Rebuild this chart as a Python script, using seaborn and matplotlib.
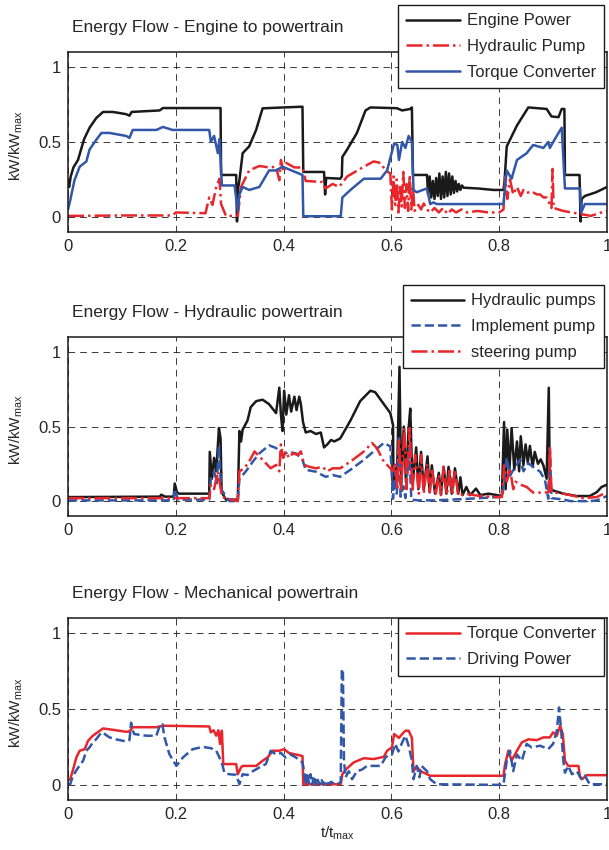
import matplotlib
matplotlib.use("Agg")
import matplotlib.pyplot as plt
import numpy as np
import pandas as pd
import seaborn as sns
from matplotlib.ticker import FormatStrFormatter

# ---- data (t / t_max, kW / kW_max) ----

# panel 1: engine to powertrain
engine_t = [0.000, 0.002, 0.005, 0.010, 0.0185, 0.025, 0.030, 0.040, 0.0525, 0.065, 0.083, 0.100,
            0.108, 0.114, 0.118, 0.170, 0.176, 0.275, 0.283, 0.284, 0.312, 0.3135, 0.316, 0.318,
            0.324, 0.336, 0.349, 0.361, 0.400, 0.435, 0.4365, 0.475, 0.477, 0.479, 0.505, 0.508,
            0.509, 0.518, 0.536, 0.552, 0.561, 0.610, 0.620, 0.635, 0.638, 0.640, 0.666, 0.668,
            0.671, 0.674, 0.677, 0.680, 0.683, 0.686, 0.689, 0.692, 0.695, 0.698, 0.701, 0.704,
            0.707, 0.710, 0.713, 0.716, 0.719, 0.722, 0.725, 0.728, 0.731, 0.734, 0.760, 0.790,
            0.808, 0.810, 0.814, 0.833, 0.854, 0.888, 0.897, 0.910, 0.916, 0.921, 0.922, 0.949,
            0.951, 0.953, 0.959, 0.980, 1.000]
engine_p = [0.25, 0.20, 0.27, 0.33, 0.38, 0.46, 0.52, 0.595, 0.66, 0.70, 0.70, 0.69,
            0.685, 0.675, 0.70, 0.71, 0.726, 0.726, 0.726, 0.28, 0.28, -0.03, 0.20, 0.245,
            0.425, 0.47, 0.58, 0.724, 0.73, 0.735, 0.30, 0.30, 0.15, 0.26, 0.255, 0.27,
            0.40, 0.45, 0.56, 0.71, 0.73, 0.725, 0.71, 0.72, 0.73, 0.28, 0.28, 0.15,
            0.27, 0.13, 0.24, 0.12, 0.26, 0.14, 0.29, 0.12, 0.27, 0.13, 0.30, 0.14,
            0.29, 0.15, 0.27, 0.16, 0.24, 0.17, 0.22, 0.18, 0.21, 0.195, 0.19, 0.18,
            0.18, 0.245, 0.47, 0.61, 0.73, 0.72, 0.67, 0.665, 0.72, 0.72, 0.28, 0.28,
            -0.03, 0.12, 0.14, 0.165, 0.20]

pump_t = [0.000, 0.100, 0.194, 0.200, 0.255, 0.262, 0.268, 0.275, 0.281, 0.284, 0.293, 0.315,
          0.321, 0.336, 0.355, 0.373, 0.386, 0.392, 0.395, 0.400, 0.405, 0.410, 0.420, 0.435,
          0.441, 0.472, 0.478, 0.491, 0.503, 0.518, 0.549, 0.567, 0.580, 0.589, 0.598, 0.601,
          0.604, 0.607, 0.610, 0.613, 0.616, 0.619, 0.622, 0.625, 0.628, 0.631, 0.634, 0.637,
          0.640, 0.643, 0.650, 0.655, 0.660, 0.666, 0.672, 0.680, 0.688, 0.696, 0.704, 0.712,
          0.720, 0.730, 0.740, 0.760, 0.780, 0.800, 0.808, 0.811, 0.815, 0.820, 0.826, 0.833,
          0.840, 0.845, 0.851, 0.860, 0.870, 0.876, 0.882, 0.888, 0.897, 0.899, 0.901, 0.919,
          0.950, 0.970, 0.990, 1.000]
pump_p = [0.007, 0.01, 0.01, 0.03, 0.025, 0.13, 0.08, 0.20, 0.255, 0.086, 0.007, 0.007,
          0.20, 0.31, 0.34, 0.33, 0.335, 0.245, 0.38, 0.30, 0.36, 0.35, 0.33, 0.33,
          0.24, 0.233, 0.19, 0.22, 0.20, 0.27, 0.335, 0.37, 0.36, 0.31, 0.29, 0.05,
          0.27, 0.08, 0.25, 0.03, 0.20, 0.07, 0.30, 0.06, 0.22, 0.04, 0.28, 0.05,
          0.20, 0.04, 0.08, 0.05, 0.09, 0.05, 0.03, 0.06, 0.03, 0.06, 0.02, 0.05,
          0.03, 0.05, 0.03, 0.04, 0.03, 0.03, 0.05, 0.27, 0.12, 0.25, 0.15, 0.20,
          0.14, 0.18, 0.16, 0.17, 0.15, 0.15, 0.13, 0.13, 0.06, 0.32, 0.06, 0.04,
          0.02, 0.007, 0.03, 0.04]

tc_t = [0.000, 0.004, 0.012, 0.0216, 0.034, 0.040, 0.0525, 0.062, 0.077, 0.108, 0.114, 0.120,
        0.164, 0.176, 0.194, 0.262, 0.265, 0.271, 0.278, 0.281, 0.2855, 0.309, 0.315, 0.318,
        0.324, 0.336, 0.355, 0.373, 0.386, 0.398, 0.435, 0.4365, 0.506, 0.509, 0.524, 0.549,
        0.580, 0.592, 0.605, 0.611, 0.614, 0.620, 0.626, 0.632, 0.638, 0.641, 0.647, 0.666,
        0.672, 0.678, 0.684, 0.808, 0.814, 0.823, 0.833, 0.851, 0.863, 0.882, 0.891, 0.894,
        0.897, 0.910, 0.916, 0.922, 0.950, 0.952, 0.959, 1.000]
tc_p = [0.05, 0.11, 0.245, 0.335, 0.37, 0.45, 0.515, 0.56, 0.56, 0.54, 0.527, 0.58,
        0.58, 0.60, 0.58, 0.58, 0.50, 0.54, 0.425, 0.52, 0.21, 0.21, 0.04, 0.15,
        0.20, 0.18, 0.20, 0.31, 0.31, 0.335, 0.28, 0.005, 0.005, 0.13, 0.18, 0.255,
        0.255, 0.31, 0.49, 0.48, 0.38, 0.50, 0.46, 0.54, 0.50, 0.18, 0.165, 0.19,
        0.086, 0.097, 0.086, 0.086, 0.31, 0.255, 0.38, 0.425, 0.48, 0.46, 0.50, 0.46,
        0.48, 0.56, 0.595, 0.19, 0.19, 0.03, 0.086, 0.086]

# panel 2: hydraulic powertrain
hyd_t = [0.000, 0.004, 0.170, 0.173, 0.180, 0.196, 0.198, 0.202, 0.206, 0.262, 0.263, 0.267,
         0.271, 0.275, 0.280, 0.283, 0.285, 0.293, 0.315, 0.318, 0.321, 0.324, 0.333, 0.339,
         0.349, 0.361, 0.373, 0.386, 0.392, 0.395, 0.398, 0.401, 0.405, 0.410, 0.414, 0.420,
         0.424, 0.429, 0.432, 0.436, 0.441, 0.450, 0.460, 0.469, 0.475, 0.481, 0.488, 0.494,
         0.505, 0.524, 0.542, 0.561, 0.570, 0.586, 0.598, 0.603, 0.604, 0.607, 0.610, 0.615,
         0.618, 0.623, 0.627, 0.632, 0.635, 0.639, 0.646, 0.650, 0.655, 0.660, 0.667, 0.671,
         0.675, 0.681, 0.688, 0.692, 0.697, 0.702, 0.706, 0.712, 0.718, 0.724, 0.728, 0.732,
         0.739, 0.746, 0.757, 0.765, 0.780, 0.796, 0.805, 0.809, 0.812, 0.815, 0.819, 0.823,
         0.828, 0.833, 0.837, 0.840, 0.845, 0.849, 0.853, 0.857, 0.862, 0.866, 0.872, 0.877,
         0.882, 0.888, 0.892, 0.894, 0.901, 0.919, 0.944, 0.968, 0.981, 0.990, 1.000]
hyd_p = [0.03, 0.027, 0.03, 0.043, 0.03, 0.03, 0.118, 0.06, 0.05, 0.05, 0.33, 0.15,
         0.29, 0.20, 0.49, 0.42, 0.06, 0.01, 0.01, 0.47, 0.40, 0.48, 0.54, 0.63,
         0.67, 0.68, 0.65, 0.59, 0.76, 0.58, 0.47, 0.74, 0.58, 0.71, 0.60, 0.70,
         0.61, 0.70, 0.65, 0.53, 0.46, 0.47, 0.45, 0.46, 0.36, 0.38, 0.41, 0.40,
         0.42, 0.54, 0.67, 0.74, 0.73, 0.65, 0.59, 0.51, 0.08, 0.22, 0.10, 0.90,
         0.10, 0.50, 0.13, 0.49, 0.62, 0.11, 0.36, 0.08, 0.33, 0.08, 0.30, 0.06,
         0.24, 0.05, 0.19, 0.05, 0.23, 0.05, 0.23, 0.05, 0.22, 0.05, 0.16, 0.04,
         0.095, 0.04, 0.084, 0.04, 0.05, 0.04, 0.035, 0.53, 0.08, 0.48, 0.21, 0.49,
         0.21, 0.40, 0.20, 0.435, 0.24, 0.38, 0.26, 0.37, 0.23, 0.33, 0.25, 0.28,
         0.24, 0.15, 0.76, 0.084, 0.07, 0.05, 0.034, 0.034, 0.06, 0.095, 0.11]

impl_t = [0.000, 0.196, 0.198, 0.204, 0.262, 0.265, 0.271, 0.276, 0.280, 0.284, 0.296, 0.300,
          0.315, 0.318, 0.330, 0.343, 0.355, 0.373, 0.386, 0.398, 0.410, 0.423, 0.435, 0.441,
          0.460, 0.478, 0.491, 0.505, 0.524, 0.549, 0.567, 0.586, 0.598, 0.603, 0.607, 0.610,
          0.614, 0.617, 0.622, 0.626, 0.633, 0.637, 0.650, 0.680, 0.740, 0.796, 0.806, 0.809,
          0.814, 0.820, 0.828, 0.839, 0.845, 0.854, 0.863, 0.876, 0.885, 0.891, 0.894, 0.897,
          0.919, 0.932, 0.968, 0.981, 1.000]
impl_p = [0.005, 0.005, 0.08, 0.01, 0.01, 0.15, 0.20, 0.12, 0.37, 0.08, 0.016, 0.0,
          0.0, 0.15, 0.20, 0.265, 0.32, 0.374, 0.356, 0.31, 0.33, 0.32, 0.277, 0.21,
          0.197, 0.163, 0.175, 0.163, 0.21, 0.277, 0.333, 0.39, 0.367, 0.016, 0.20, 0.05,
          0.42, 0.03, 0.10, 0.02, 0.35, 0.01, 0.005, 0.005, 0.015, 0.027, 0.03, 0.13,
          0.29, 0.17, 0.22, 0.277, 0.20, 0.254, 0.23, 0.197, 0.14, 0.016, 0.356, 0.02,
          0.011, 0.0, 0.0, 0.005, 0.034]

steer_t = [0.000, 0.262, 0.265, 0.271, 0.278, 0.281, 0.286, 0.315, 0.318, 0.327, 0.336, 0.346,
           0.355, 0.367, 0.376, 0.386, 0.392, 0.395, 0.399, 0.404, 0.410, 0.417, 0.426, 0.432,
           0.438, 0.448, 0.460, 0.472, 0.481, 0.491, 0.505, 0.524, 0.549, 0.564, 0.573, 0.586,
           0.598, 0.603, 0.607, 0.611, 0.614, 0.618, 0.624, 0.628, 0.634, 0.639, 0.644, 0.651,
           0.655, 0.660, 0.666, 0.671, 0.675, 0.682, 0.688, 0.692, 0.697, 0.703, 0.708, 0.713,
           0.718, 0.724, 0.735, 0.765, 0.796, 0.805, 0.809, 0.814, 0.820, 0.826, 0.830, 0.842,
           0.851, 0.863, 0.882, 0.892, 0.894, 0.897, 0.919, 0.932, 0.956, 0.981, 1.000]
steer_p = [0.02, 0.02, 0.11, 0.08, 0.20, 0.13, 0.027, 0.0, 0.20, 0.22, 0.265, 0.333,
           0.30, 0.254, 0.22, 0.243, 0.20, 0.38, 0.29, 0.333, 0.29, 0.32, 0.31, 0.333,
           0.243, 0.23, 0.22, 0.23, 0.20, 0.22, 0.22, 0.265, 0.333, 0.39, 0.356, 0.265,
           0.22, 0.20, 0.26, 0.08, 0.42, 0.08, 0.49, 0.08, 0.49, 0.06, 0.31, 0.05,
           0.31, 0.05, 0.25, 0.05, 0.22, 0.04, 0.175, 0.04, 0.23, 0.04, 0.22, 0.04,
           0.21, 0.034, 0.05, 0.034, 0.027, 0.027, 0.24, 0.13, 0.22, 0.08, 0.13, 0.107,
           0.095, 0.057, 0.057, 0.06, 0.367, 0.06, 0.05, 0.04, 0.02, 0.027, 0.06]

# panel 3: mechanical powertrain
mtc_t = [0.000, 0.004, 0.0093, 0.0154, 0.0216, 0.031, 0.037, 0.046, 0.059, 0.065, 0.083, 0.108,
         0.114, 0.120, 0.163, 0.176, 0.262, 0.265, 0.270, 0.275, 0.279, 0.282, 0.2855, 0.288,
         0.312, 0.315, 0.321, 0.324, 0.349, 0.361, 0.370, 0.380, 0.392, 0.401, 0.410, 0.423,
         0.435, 0.4365, 0.506, 0.509, 0.515, 0.530, 0.549, 0.567, 0.586, 0.592, 0.601, 0.605,
         0.614, 0.620, 0.626, 0.632, 0.638, 0.641, 0.647, 0.654, 0.666, 0.672, 0.808, 0.811,
         0.817, 0.823, 0.833, 0.842, 0.854, 0.870, 0.882, 0.894, 0.900, 0.907, 0.913, 0.918,
         0.922, 0.928, 0.947, 0.950, 0.955, 0.962, 1.000]
mtc_p = [0.03, 0.037, 0.10, 0.18, 0.225, 0.235, 0.29, 0.324, 0.357, 0.372, 0.363, 0.35,
         0.352, 0.38, 0.38, 0.39, 0.385, 0.346, 0.36, 0.324, 0.36, 0.27, 0.357, 0.137,
         0.137, 0.07, 0.115, 0.125, 0.125, 0.159, 0.18, 0.225, 0.225, 0.235, 0.21, 0.20,
         0.19, 0.004, 0.004, 0.07, 0.10, 0.148, 0.176, 0.17, 0.185, 0.225, 0.247, 0.335,
         0.31, 0.335, 0.357, 0.357, 0.31, 0.09, 0.12, 0.09, 0.07, 0.06, 0.06, 0.137,
         0.225, 0.16, 0.225, 0.28, 0.30, 0.295, 0.313, 0.313, 0.346, 0.324, 0.39, 0.335,
         0.159, 0.125, 0.125, 0.05, 0.04, 0.064, 0.064]

drive_t = [0.000, 0.004, 0.0093, 0.019, 0.028, 0.034, 0.040, 0.046, 0.052, 0.062, 0.068, 0.077,
           0.089, 0.108, 0.114, 0.117, 0.120, 0.123, 0.145, 0.164, 0.170, 0.175, 0.179, 0.188,
           0.201, 0.213, 0.231, 0.250, 0.265, 0.275, 0.281, 0.287, 0.290, 0.299, 0.312, 0.318,
           0.324, 0.333, 0.343, 0.355, 0.367, 0.376, 0.386, 0.395, 0.404, 0.413, 0.423, 0.435,
           0.438, 0.441, 0.444, 0.447, 0.450, 0.453, 0.456, 0.459, 0.462, 0.466, 0.470, 0.474,
           0.478, 0.483, 0.488, 0.495, 0.503, 0.506, 0.508, 0.510, 0.512, 0.515, 0.521, 0.527,
           0.536, 0.545, 0.555, 0.580, 0.589, 0.595, 0.601, 0.607, 0.613, 0.620, 0.626, 0.632,
           0.638, 0.641, 0.647, 0.652, 0.656, 0.666, 0.672, 0.684, 0.796, 0.808, 0.814, 0.820,
           0.826, 0.833, 0.842, 0.851, 0.860, 0.876, 0.891, 0.900, 0.907, 0.911, 0.915, 0.919,
           0.922, 0.928, 0.935, 0.944, 0.953, 0.959, 0.968, 1.000]
drive_p = [0.004, 0.004, 0.06, 0.115, 0.159, 0.225, 0.247, 0.28, 0.30, 0.346, 0.335, 0.313,
           0.30, 0.286, 0.295, 0.41, 0.357, 0.335, 0.324, 0.324, 0.39, 0.40, 0.313, 0.203,
           0.125, 0.18, 0.235, 0.25, 0.242, 0.225, 0.18, 0.125, 0.08, 0.07, 0.066, 0.004,
           0.07, 0.065, 0.09, 0.115, 0.137, 0.225, 0.20, 0.21, 0.18, 0.20, 0.18, 0.148,
           0.09, 0.0, 0.08, 0.01, 0.07, 0.0, 0.06, 0.01, 0.05, 0.0, 0.04, 0.0,
           0.03, 0.005, 0.02, 0.005, 0.01, 0.02, 0.75, 0.764, 0.159, 0.05, 0.09, 0.037,
           0.09, 0.10, 0.125, 0.125, 0.18, 0.20, 0.20, 0.27, 0.22, 0.28, 0.324, 0.257,
           0.159, 0.037, 0.125, 0.05, 0.125, 0.09, 0.037, 0.004, 0.0, 0.004, 0.159, 0.225,
           0.09, 0.20, 0.159, 0.27, 0.247, 0.258, 0.236, 0.27, 0.357, 0.51, 0.357, 0.159,
           0.08, 0.125, 0.07, 0.09, 0.037, 0.06, 0.004, 0.004]

x_ticks = [0, 0.2, 0.4, 0.6, 0.8, 1]
y_ticks = [0, 0.5, 1]
titles = ["Energy Flow - Engine to powertrain",
          "Energy Flow - Hydraulic powertrain",
          "Energy Flow - Mechanical powertrain"]

RED = "#e8262b"
BLUE = "#3257a8"

sns.set_theme(style="white")
plt.rcParams["font.family"] = ["Liberation Sans", "DejaVu Sans"]
plt.rcParams["mathtext.default"] = "regular"

fig = plt.figure(figsize=(6.09, 8.5), dpi=100)
axes = [fig.add_axes([0.1117, 0.7271, 0.885, 0.2118]),
        fig.add_axes([0.1117, 0.3929, 0.885, 0.2106]),
        fig.add_axes([0.1117, 0.0588, 0.885, 0.2141])]

panels = [
    [(engine_t, engine_p, "k", "-", "Engine Power"),
     (pump_t, pump_p, RED, "-.", "Hydraulic Pump"),
     (tc_t, tc_p, BLUE, "-", "Torque Converter")],
    [(hyd_t, hyd_p, "k", "-", "Hydraulic pumps"),
     (impl_t, impl_p, BLUE, "--", "Implement pump"),
     (steer_t, steer_p, RED, "-.", "steering pump")],
    [(mtc_t, mtc_p, RED, "-", "Torque Converter"),
     (drive_t, drive_p, BLUE, "--", "Driving Power")],
]
legend_anchor = [(0.992, 0.994), (0.992, 0.6647), (0.992, 0.2729)]

for ax, series, title, anchor in zip(axes, panels, titles, legend_anchor):
    for t, p, col, ls, lab in series:
        df = pd.DataFrame({"t": t, "p": p})
        sns.lineplot(data=df, x="t", y="p", estimator=None, sort=False, ax=ax,
                     color=col, linestyle=ls, linewidth=1.8, label=lab)
    ax.set_xlim(0, 1)
    ax.set_ylim(-0.1, 1.1)
    ax.set_xticks(x_ticks)
    ax.set_yticks(y_ticks)
    ax.xaxis.set_major_formatter(FormatStrFormatter("%g"))
    ax.yaxis.set_major_formatter(FormatStrFormatter("%g"))
    ax.tick_params(direction="in", length=3, width=0.6, labelsize=12, pad=5)
    ax.grid(True, color="k", linestyle=(0, (8, 6)), linewidth=0.6)
    for sp in ax.spines.values():
        sp.set_color("k")
        sp.set_linewidth(1.1)
    ax.set_xlabel("")
    ax.set_ylabel("kW/kW$_{max}$", fontsize=11)
    ax.yaxis.set_label_coords(-0.08, 0.48)
    ax.text(0.0074, 1.135, title, transform=ax.transAxes, ha="left", va="center", fontsize=12.5)
    leg = ax.legend(loc="upper right", bbox_to_anchor=anchor, bbox_transform=fig.transFigure,
                    borderaxespad=0, fontsize=12, handlelength=3.2, handletextpad=0.42,
                    borderpad=0.5, labelspacing=0.65, fancybox=False, framealpha=1,
                    edgecolor="k")
    leg.get_frame().set_linewidth(1.0)

axes[2].set_xlabel("t/t$_{max}$", fontsize=11)
axes[2].xaxis.set_label_coords(0.5, -0.135)
axes[2].xaxis.label.set_va("top")

fig.savefig("out.png", dpi=100)
